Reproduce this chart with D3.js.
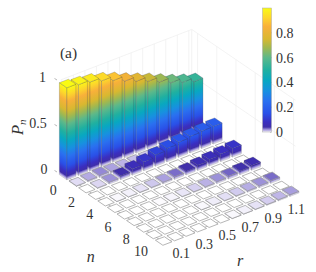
<!DOCTYPE html>
<html><head><meta charset="utf-8">
<script src="https://cdn.jsdelivr.net/npm/d3@7"></script>
<style>html,body{margin:0;padding:0;background:#fff}svg{display:block}text{font-family:"Liberation Serif",serif;fill:#333}</style>
</head><body><svg id="c" width="316" height="272"></svg>
<script>
const rValues=[0,0.1,0.2,0.3,0.4,0.5,0.6,0.7,0.8,0.9,1.0,1.1];
const nValues=[0,1,2,3,4,5,6,7,8,9,10];
const P0=[1,.985,.965,.93,.885,.83,.78,.73,.675,.62,.575,.535];
const P1=[.005,.014,.022,.016,.012,.01,.008,.008,.006,.006,.005,.005];
const P2=[0,.006,.02,.041,.067,.095,.122,.145,.165,.179,.188,.19];
const P3=[0,0,0,0,0,0,0,0,0,0,0,0];
const P4=[0,.001,.002,.004,.0085,.0165,.0275,.0398,.0546,.0687,.0817,.0924];
const P5=[0,0,0,0,0,0,0,0,0,0,0,0];
const P6=[0,0,0,.0005,.0015,.0035,.007,.0125,.02,.0293,.0395,.0494];
const P7=[0,0,0,0,0,0,0,0,0,0,0,0];
const P8=[0,0,0,0,0,.001,.0025,.0045,.008,.0135,.02,.0277];
const P9=[0,0,0,0,0,0,0,0,0,0,0,0];
const P10=[0,0,0,0,0,0,.001,.002,.004,.0075,.0115,.017];
const rows=[P0,P1,P2,P3,P4,P5,P6,P7,P8,P9,P10];
const rTicks=[0.1,0.3,0.5,0.7,0.9,1.1];
const nTicks=[0,2,4,6,8,10];
const zTicks=[0,0.5,1];
const cbTicks=[0,0.2,0.4,0.6,0.8];
const mapStops=[0,.004,.012,.022,.04,.08,.15,.25,.33,.42,.5,.6,.68,.75,.85,.92,1];
const mapColors=["#ffffff","#e6e2f6","#bcb3e6","#9488d6","#3f2eaa","#3a2ec0","#2a50e8","#2a70f0","#1890e0","#08a8c0","#20b0a0","#5cb88a","#a0b850","#d8b830","#f8b03a","#fdd52c","#f9fb14"];

const color=d3.scaleLinear().domain(mapStops).range(mapColors).clamp(true);
const xR=d3.scaleLinear().domain([0,1.1]).range([0,127.05]);
const yR=d3.scaleLinear().domain([0,1.1]).range([0,-48.95]);
const xN=d3.scaleLinear().domain([0,10]).range([67.65,163.65]);
const yN=d3.scaleLinear().domain([0,10]).range([175.5,241]);
const zS=d3.scaleLinear().domain([0,1]).range([0,-92]);
const P=(r,n,z)=>[xR(r)+xN(n),yR(r)+yN(n)+zS(z)];
const svg=d3.select("#c");
const defs=svg.append("defs");
const g=svg.append("g");
const rMin=-0.011,rMax=1.125,nMin=-0.61,nMax=10.2,hw=0.39;
const line=(a,b,col,w)=>g.append("line").attr("x1",a[0]).attr("y1",a[1]).attr("x2",b[0]).attr("y2",b[1]).attr("stroke",col).attr("stroke-width",w);

// walls
const gridCol="#eeeeee";
rValues.forEach(r=>line(P(r,nMin,0),P(r,nMin,1),gridCol,.7));
nTicks.forEach(n=>line(P(rMax,n,0),P(rMax,n,1),gridCol,.7));
line(P(rMin,nMin,1),P(rMax,nMin,1),gridCol,.7);
line(P(rMax,nMin,1),P(rMax,nMax,1),gridCol,.7);
line(P(rMin,nMin,.5),P(rMax,nMin,.5),gridCol,.7);
line(P(rMax,nMin,.5),P(rMax,nMax,.5),gridCol,.7);
line(P(rMax,nMin,0),P(rMax,nMax,0),gridCol,.7);
line(P(rMin,nMin,0),P(rMax,nMin,0),gridCol,.7);
line(P(rMax,nMin,0),P(rMax,nMin,1),gridCol,.7);
// axis edges
line(P(rMin,nMin,0),P(rMin,nMax,0),"#999",.7);
line(P(rMin,nMax,0),P(rMax,nMax,0),"#aaa",.7);

// bars
const dr=rValues[1]-rValues[0];
let gid=0;
function faceGrad(a,b,v){
  const ex=b[0]-a[0],ey=b[1]-a[1],len=Math.hypot(ex,ey);
  let nx=-ey/len,ny=ex/len; if(ny>0){nx=-nx;ny=-ny;}
  const h=-zS(v),d=h*(-ny);
  const id="f"+(gid++);
  const gr=defs.append("linearGradient").attr("id",id).attr("gradientUnits","userSpaceOnUse")
    .attr("x1",a[0]).attr("y1",a[1]).attr("x2",a[0]+nx*d).attr("y2",a[1]+ny*d);
  const vs=mapStops.filter(s=>s<v).concat([v]);
  vs.forEach(s=>gr.append("stop").attr("offset",s/v).attr("stop-color",color(s)));
  return "url(#"+id+")";
}
const poly=pts=>pts.map(p=>p.join(",")).join(" ");
nValues.forEach(n=>{
  rValues.slice().reverse().forEach(r=>{
    const v=rows[n][rValues.indexOf(r)];
    const rl=r-hw*dr,rh=r+hw*dr,nl=n-hw,nh=n+hw;
    const edge="rgba(55,55,75,.45)";
    if(v>0.0005){
      const L=P(rl,nl,0),F=P(rl,nh,0),Rv=P(rh,nh,0);
      const Lt=P(rl,nl,v),Ft=P(rl,nh,v),Rt=P(rh,nh,v);
      g.append("polygon").attr("points",poly([L,F,Ft,Lt])).attr("fill",faceGrad(L,F,v)).attr("stroke",edge).attr("stroke-width",.5);
      g.append("polygon").attr("points",poly([F,Rv,Rt,Ft])).attr("fill",faceGrad(F,Rv,v)).attr("stroke",edge).attr("stroke-width",.5);
    }
    g.append("polygon").attr("points",poly([P(rl,nl,v),P(rl,nh,v),P(rh,nh,v),P(rh,nl,v)]))
      .attr("fill",color(v)).attr("stroke",v>0.03?edge:"#969696").attr("stroke-width",v>0.03?.5:.7);
  });
});

// ticks / labels
const label=(x,y,t,size,anchor,style)=>svg.append("text").attr("x",x).attr("y",y).attr("dy",".35em").attr("font-size",size).attr("text-anchor",anchor||"middle").attr("font-style",style||"normal").text(t);
const zLabelY=d3.scaleLinear().domain([0,1]).range([169,77]);
const zLabelX=d3.scaleLinear().domain([0,1]).range([47.5,46]);
zTicks.forEach(z=>{
  label(zLabelX(z),zLabelY(z),z,14,"end");
  const p=P(rMin,nMin,z);
  line([p[0]-6,p[1]-1.5],[p[0]-3.5,p[1]],"#999",.7);
});
const nLX=d3.scaleLinear().domain([0,10]).range([56.7,148]);
const nLY=d3.scaleLinear().domain([0,10]).range([190,251]);
nTicks.forEach(n=>label(nLX(n),nLY(n),n,14,"end"));
const rLX=d3.scaleLinear().domain([0.1,1.1]).range([181.3,296.3]);
const rLY=d3.scaleLinear().domain([0.1,1.1]).range([252.7,209.3]);
rTicks.forEach(r=>label(rLX(r),rLY(r),r.toFixed(1),14));
label(90.7,256,"n",16,"middle","italic");
label(240,260.5,"r",16,"middle","italic");
label(68.5,53,"(a)",15.5);
const pl=svg.append("text").attr("transform","translate(23,135) rotate(-90)").attr("font-size",16.5);
pl.append("tspan").attr("font-style","italic").text("P");
pl.append("tspan").attr("font-style","italic").attr("font-size",11).attr("dy",2.5).text("n");

// colorbar
const cbY=d3.scaleLinear().domain([0,1]).range([132,8]);
const cg=defs.append("linearGradient").attr("id","cb").attr("x1",0).attr("y1",1).attr("x2",0).attr("y2",0);
mapStops.forEach(s=>cg.append("stop").attr("offset",s).attr("stop-color",color(s)));
svg.append("rect").attr("x",262.5).attr("y",cbY(1)).attr("width",9).attr("height",cbY(0)-cbY(1)).attr("fill","url(#cb)").attr("stroke","#aaa").attr("stroke-width",.5);
cbTicks.forEach(t=>{
  label(276,cbY(t),t,14,"start");
  line([271.5,cbY(t)],[270,cbY(t)],"#444",.5);
});
</script></body></html>
